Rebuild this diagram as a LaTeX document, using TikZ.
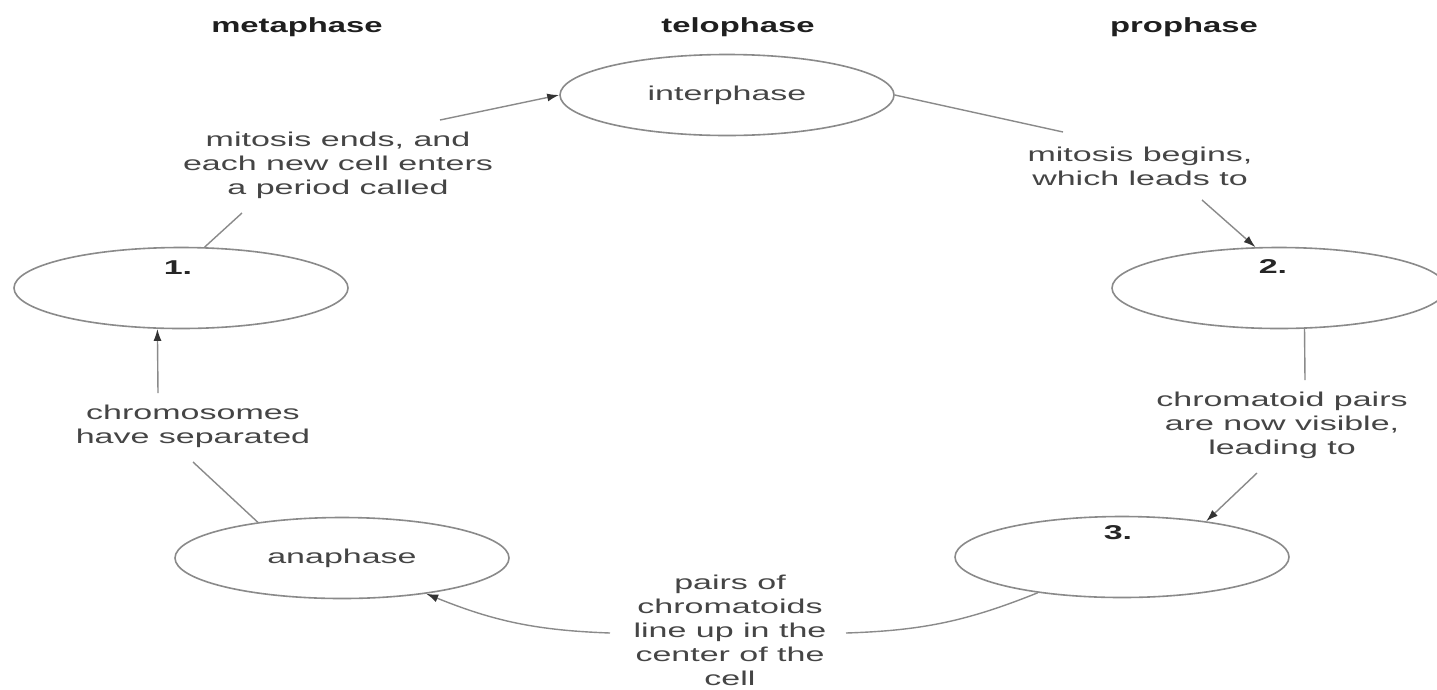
\documentclass[tikz,border=0pt]{standalone}
\usepackage{fontspec}
\setmainfont{Liberation Sans}
\newfontfamily\bodyf{Liberation Sans}[FakeStretch=1.7]
\newfontfamily\headf{Liberation Sans}[FakeStretch=1.6]
\usetikzlibrary{shapes.geometric,arrows.meta}
\definecolor{linegray}{HTML}{8A8A8A}
\definecolor{txtgray}{HTML}{454545}
\tikzset{
  phase/.style={ellipse, draw=linegray, line width=1.6pt, minimum width=334pt,
    minimum height=81pt, inner sep=0pt, font=\bodyf\fontsize{20}{24}\selectfont, text=txtgray},
  num/.style={font=\bodyf\bfseries\fontsize{20}{24}\selectfont, text=black!85, inner sep=0pt},
  desc/.style={align=center, font=\bodyf\fontsize{20}{24}\selectfont, text=txtgray, inner sep=0pt},
  head/.style={font=\headf\bfseries\fontsize{20.5}{24}\selectfont, text=black!88, anchor=base, inner sep=0pt},
  conn/.style={draw=linegray, line width=1.4pt},
  arr/.style={conn, -{Latex[length=12pt,width=8pt,color=black!80]}}
}
\begin{document}
\begin{tikzpicture}[x=1pt,y=-1pt]
\fill[white] (0,0) rectangle (1437,689);
\useasboundingbox (0,0) rectangle (1437,689);
% headers
\node[head] (hmeta) at (297,32) {metaphase};
\node[head] (htelo) at (738,32) {telophase};
\node[head] (hpro)  at (1184,32) {prophase};
% ellipses
\node[phase] (inter) at (727,95) {interphase};
\node[phase] (e1) at (181,288) {};
\node[phase] (e2) at (1279,288) {};
\node[phase] (e3) at (1122,557) {};
\node[phase] (ana) at (342,558) {anaphase};
% numbers
\node[num] (n1) at (178,268) {1.};
\node[num] (n2) at (1273,267) {2.};
\node[num] (n3) at (1118,533) {3.};
% descriptions
\node[desc] (t1) at (338,165) {mitosis ends, and\\each new cell enters\\a period called};
\node[desc] (t2) at (1140,166) {mitosis begins,\\which leads to};
\node[desc] (t3) at (1282,425) {chromatoid pairs\\are now visible,\\leading to};
\node[desc] (t4) at (730,630) {pairs of\\chromatoids\\line up in the\\center of the\\cell};
\node[desc] (t5) at (193,426) {chromosomes\\have separated};
% connector ends near texts
\coordinate (c1) at (242,213);
\coordinate (c2) at (440,120);
\coordinate (c3) at (1063,132);
\coordinate (c4) at (1202,200);
\coordinate (c5) at (1305,380);
\coordinate (c6) at (1257,473);
\coordinate (c7) at (846,633);
\coordinate (c8) at (610,633);
\coordinate (c9) at (193,462);
\coordinate (c10) at (158,393);
% connectors
\draw[conn] (e1.60) -- (c1);
\draw[arr] (c2) -- (inter.west);
\draw[conn] (inter.east) -- (c3);
\draw[arr] (c4) -- (e2.120);
\draw[conn] (e2.-58) -- (c5);
\draw[arr] (c6) -- (e3.23);
\draw[conn] (e3.203) to[bend left=10] (c7);
\draw[arr] (c8) to[bend left=10] (ana.-23);
\draw[conn] (ana.157) -- (c9);
\draw[arr] (c10) -- (e1.-120);
\end{tikzpicture}
\end{document}
